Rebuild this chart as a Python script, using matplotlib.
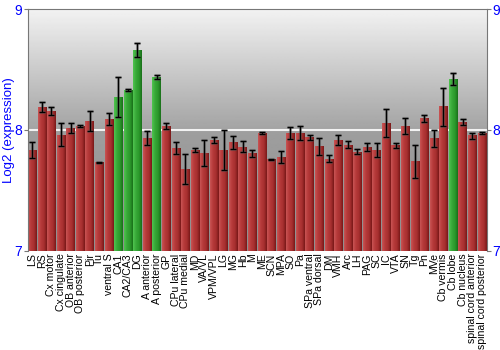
import numpy as np
import matplotlib
matplotlib.use("Agg")
import matplotlib.pyplot as plt
from matplotlib.colors import LinearSegmentedColormap

regions = [
    "LS", "RS", "Cx motor", "Cx cingulate", "OB anterior", "OB posterior", "Pir", "Tu",
    "ventral S", "CA1", "CA2/CA3", "DG", "A anterior", "A posterior", "GP", "CPu lateral",
    "CPu medial", "MD", "VA/VL", "VPM/VPL", "LG", "MG", "Hb", "M", "ME", "SCN", "MPA",
    "SO", "Pa", "SPa ventral", "SPa dorsal", "DM", "VMH", "Arc", "LH", "PAG", "SC", "IC",
    "VTA", "SN", "Tg", "Pn", "MVe", "Cb vermis", "Cb lobe", "Cb nucleus",
    "spinal cord anterior", "spinal cord posterior",
]
values = [
    7.83, 8.19, 8.155, 7.96, 8.014, 8.033, 8.07, 7.73,
    8.09, 8.27, 8.33, 8.66, 7.934, 8.436, 8.028, 7.85,
    7.677, 7.834, 7.807, 7.917, 7.834, 7.895, 7.86, 7.804, 7.975, 7.757, 7.773,
    7.972, 7.972, 7.936, 7.862, 7.76, 7.917, 7.876, 7.818, 7.856, 7.834, 8.06,
    7.873, 8.033, 7.738, 8.094, 7.93, 8.193, 8.42, 8.066,
    7.953, 7.975,
]
errors = [
    0.066, 0.044, 0.035, 0.097, 0.04, 0.006, 0.083, 0.006,
    0.052, 0.167, 0.006, 0.06, 0.06, 0.018, 0.025, 0.052,
    0.125, 0.014, 0.105, 0.022, 0.163, 0.05, 0.044, 0.025, 0.008, 0.003, 0.048,
    0.05, 0.06, 0.022, 0.07, 0.03, 0.04, 0.03, 0.022, 0.035, 0.057, 0.116,
    0.022, 0.066, 0.14, 0.025, 0.072, 0.157, 0.048, 0.022,
    0.025, 0.006,
]
highlighted = ["CA1", "CA2/CA3", "DG", "A posterior", "Cb lobe"]

plt.rcParams["font.family"] = ["Liberation Sans", "DejaVu Sans"]

red_cmap = LinearSegmentedColormap.from_list(
    "red_bar", ["#c85454", "#b63a3a", "#a83030", "#7a1818"])
green_cmap = LinearSegmentedColormap.from_list(
    "green_bar", ["#50c450", "#38a838", "#2c9a2c", "#1a701a"])

fig = plt.figure(figsize=(5, 3.5), dpi=100)
ax = fig.add_axes([0.055, 0.284, 0.918, 0.69])

y_min, y_max = 7, 9
x = np.arange(len(regions))
n = len(regions)

# background gradient: light at top, darker toward the 8 line, darker again below
bg_top = np.linspace(0.95, 0.64, 100)
bg_bot = np.linspace(0.62, 0.56, 100)
ax.imshow(bg_top.reshape(-1, 1), extent=(-0.5, n - 0.5, 8, 9), cmap="gray",
          vmin=0, vmax=1, aspect="auto", zorder=0)
ax.imshow(bg_bot.reshape(-1, 1), extent=(-0.5, n - 0.5, 7, 8), cmap="gray",
          vmin=0, vmax=1, aspect="auto", zorder=0)
ax.axhline(8, color="#f2f2f2", lw=1.5, zorder=1)

grad = np.linspace(0, 1, 32).reshape(1, -1)
w = 0.88
for xi, name, v in zip(x, regions, values):
    cmap = green_cmap if name in highlighted else red_cmap
    ax.imshow(grad, extent=(xi - w / 2, xi + w / 2, y_min, v), cmap=cmap,
              aspect="auto", zorder=2)

ax.errorbar(x, values, yerr=errors, fmt="none", ecolor="#555555", elinewidth=2.2,
            capsize=2.5, capthick=2.2, alpha=0.5, zorder=3)
ax.errorbar(x, values, yerr=errors, fmt="none", ecolor="black", elinewidth=0.9,
            capsize=2.5, capthick=0.9, zorder=4)

ax.set_xlim(-0.5, n - 0.5)
ax.set_ylim(y_min, y_max)
ax.set_xticks(x)
ax.set_xticklabels(regions, rotation=90, fontsize=7.6)
ax.tick_params(axis="x", length=0, pad=2)
ax.set_yticks([7, 8, 9])
ax.tick_params(axis="y", colors="#777777", labelcolor="blue", labelsize=10,
               length=3, right=True, labelright=True, pad=1)
ax.set_ylabel("Log2 (expression)", color="blue", fontsize=9.5)
ax.yaxis.set_label_coords(-0.028, 0.5)
for side in ["left", "right", "top"]:
    ax.spines[side].set_color("#777777")
ax.spines["bottom"].set_visible(False)

fig.savefig("out.png", dpi=100)
